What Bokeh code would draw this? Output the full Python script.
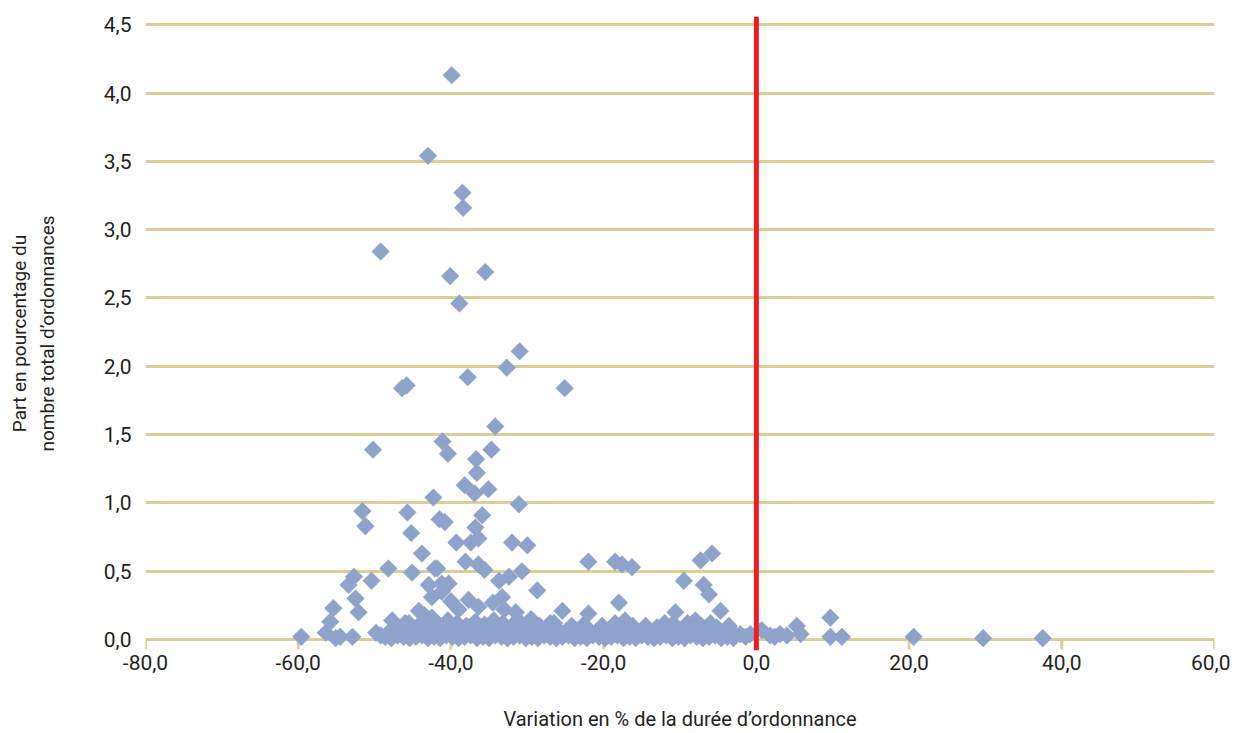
from bokeh.plotting import figure
from bokeh.models import Range1d, FixedTicker, CustomJSTickFormatter, Span, ColumnDataSource
from bokeh.embed import file_html
from bokeh.resources import INLINE

# ---- data (variation % of prescription duration, share % of prescriptions) ----
high_x = [-39.9, -43.0, -38.5, -38.4, -49.2, -40.1, -35.5, -38.9, -31.0, -32.7,
          -37.8, -25.1, -46.4, -45.8, -50.2, -41.1, -40.4, -34.2, -34.7, -36.7,
          -36.6, -38.2, -36.9, -35.1, -42.3]
high_y = [4.13, 3.54, 3.27, 3.16, 2.84, 2.66, 2.69, 2.46, 2.11, 1.99,
          1.92, 1.84, 1.84, 1.86, 1.39, 1.45, 1.36, 1.56, 1.39, 1.32,
          1.22, 1.13, 1.07, 1.10, 1.04]

mid_x = [-31.1, -51.6, -51.2, -45.7, -45.2, -41.5, -40.8, -35.9, -36.8, -39.3,
         -37.4, -36.4, -32.0, -30.0, -43.8, -48.2, -45.1, -42.1, -52.7, -50.4,
         -53.4, -52.5, -42.9, -42.5, -41.2, -38.1, -36.4, -41.8, -30.7, -22.0,
         -28.7, -40.3, -41.2, -33.7, -32.4, -33.3, -18.5, -17.6, -16.3, -5.8,
         -7.3, -9.5, -6.9, -6.2, -35.6]
mid_y = [0.99, 0.94, 0.83, 0.93, 0.78, 0.88, 0.86, 0.91, 0.82, 0.71,
         0.71, 0.74, 0.71, 0.69, 0.63, 0.52, 0.49, 0.52, 0.46, 0.43,
         0.40, 0.30, 0.40, 0.31, 0.41, 0.57, 0.55, 0.52, 0.50, 0.57,
         0.36, 0.41, 0.35, 0.43, 0.46, 0.31, 0.57, 0.55, 0.53, 0.63,
         0.58, 0.43, 0.40, 0.33, 0.51]

low_x = [-52.1, -55.4, -55.8, -44.2, -47.7, -42.5, -37.7, -36.4, -25.4, -22.0,
         -18.0, -4.7, -10.6, -17.2, 9.7, -40.0, -39.0, -34.5, -33.0, -31.5,
         -29.5, -27.0, -45.5, -43.5, -12.0, -8.0, -6.0, -3.6, -14.5]
low_y = [0.20, 0.23, 0.13, 0.21, 0.14, 0.16, 0.29, 0.24, 0.21, 0.19,
         0.27, 0.21, 0.20, 0.14, 0.16, 0.28, 0.22, 0.27, 0.22, 0.20,
         0.15, 0.12, 0.12, 0.18, 0.12, 0.14, 0.12, 0.10, 0.10]

edge_x = [-59.6, -56.4, -54.5, -52.9, -55.1, -49.8, -49.2, 20.6, 29.7, 37.5,
          9.7, 11.2, 5.3, 5.8, 0.7, 3.1, 4.0, 1.8, -0.8, -2.1, -3.4, -1.4, 2.4]
edge_y = [0.02, 0.05, 0.02, 0.02, 0.01, 0.05, 0.03, 0.02, 0.01, 0.01,
          0.02, 0.02, 0.10, 0.04, 0.07, 0.04, 0.03, 0.03, 0.04, 0.04, 0.07, 0.02, 0.02]

base1_x = [-48.6, -47.8, -47.0, -46.2, -45.4, -44.6, -43.8, -43.0, -42.2, -41.4,
           -40.6, -39.8, -39.0, -38.2, -37.4, -36.6, -35.8, -35.0, -34.2, -33.4,
           -32.6, -31.8, -31.0, -30.2, -29.4, -28.6, -27.8, -27.0, -26.2, -25.4,
           -24.6, -23.8, -23.0, -22.2, -21.4, -20.6, -19.8, -19.0, -18.2, -17.4,
           -16.6, -15.8, -15.0, -14.2, -13.4, -12.6, -11.8, -11.0, -10.2, -9.4,
           -8.6, -7.8, -7.0, -6.2, -5.4, -4.6, -3.8, -3.0]
base1_y = [0.02, 0.01, 0.03, 0.02, 0.01, 0.02, 0.03, 0.01, 0.02, 0.01,
           0.03, 0.02, 0.01, 0.02, 0.03, 0.01, 0.02, 0.01, 0.03, 0.02,
           0.01, 0.02, 0.03, 0.01, 0.02, 0.01, 0.03, 0.02, 0.01, 0.02,
           0.03, 0.01, 0.02, 0.01, 0.03, 0.02, 0.01, 0.02, 0.03, 0.01,
           0.02, 0.01, 0.03, 0.02, 0.01, 0.02, 0.03, 0.01, 0.02, 0.01,
           0.03, 0.02, 0.01, 0.02, 0.03, 0.01, 0.02, 0.01]

base2_x = [-48.0, -46.8, -45.8, -44.9, -44.1, -43.3, -42.5, -41.7, -40.9, -40.1,
           -39.3, -38.5, -37.7, -36.9, -36.1, -35.3, -34.5, -33.7, -32.9, -32.1,
           -31.3, -30.5, -29.7, -28.9, -28.1, -26.9, -25.9, -24.9, -23.9, -22.9,
           -21.9, -20.9, -19.9, -18.9, -17.9, -16.9, -15.9, -14.9, -13.7, -12.3,
           -11.2, -10.4, -9.6, -8.7, -7.6, -6.6, -5.6, -4.4]
base2_y = [0.06, 0.08, 0.05, 0.07, 0.09, 0.06, 0.08, 0.07, 0.09, 0.06,
           0.08, 0.07, 0.09, 0.06, 0.08, 0.07, 0.09, 0.06, 0.08, 0.07,
           0.06, 0.09, 0.07, 0.06, 0.08, 0.05, 0.07, 0.06, 0.08, 0.05,
           0.07, 0.06, 0.05, 0.08, 0.06, 0.05, 0.07, 0.05, 0.06, 0.08,
           0.07, 0.09, 0.06, 0.08, 0.07, 0.05, 0.06, 0.05]

base3_x = [-46.0, -44.3, -43.0, -41.6, -40.4, -39.2, -38.0, -36.8, -35.6, -34.4,
           -33.2, -32.0, -30.8, -29.6, -28.4, -26.5, -24.2, -22.6, -20.2, -18.5,
           -16.2, -13.0, -11.0, -9.0, -7.2, -5.2]
base3_y = [0.12, 0.10, 0.13, 0.11, 0.14, 0.12, 0.10, 0.13, 0.11, 0.14,
           0.12, 0.10, 0.12, 0.11, 0.10, 0.12, 0.10, 0.11, 0.10, 0.12,
           0.10, 0.09, 0.11, 0.12, 0.10, 0.09]

x_ticks = [-80, -60, -40, -20, 0, 20, 40, 60]
y_ticks = [0, 0.5, 1.0, 1.5, 2.0, 2.5, 3.0, 3.5, 4.0, 4.5]
reference_x = 0

x_title = "Variation en % de la durée d\u2019ordonnance"
y_title = "Part en pourcentage du\nnombre total d\u2019ordonnances"

xs = high_x + mid_x + low_x + edge_x + base1_x + base2_x + base3_x
ys = high_y + mid_y + low_y + edge_y + base1_y + base2_y + base3_y

FONT = "Roboto"
TXT = "#231f20"
GRID = "#dccf95"
TICK_LEN = 0.073  # tick mark length below the zero line (≈10 px)

p = figure(width=1230, height=733, output_backend="svg", toolbar_location=None,
           x_range=Range1d(-80, 60), y_range=Range1d(-0.08, 4.56),
           min_border_left=145, min_border_right=16, min_border_top=16, min_border_bottom=83)
p.outline_line_color = None
p.background_fill_color = "white"

# grid
p.xgrid.visible = False
p.ygrid.ticker = FixedTicker(ticks=y_ticks)
p.ygrid.grid_line_color = GRID
p.ygrid.grid_line_width = 3

fmt = CustomJSTickFormatter(code="return tick.toFixed(1).replace('.', ',');")

# y axis
p.yaxis.ticker = FixedTicker(ticks=y_ticks)
p.yaxis.formatter = fmt
p.yaxis.axis_line_color = None
p.yaxis.major_tick_line_color = None
p.yaxis.minor_tick_line_color = None
p.yaxis.major_tick_out = 0
p.yaxis.major_label_standoff = 14
p.yaxis.major_label_text_font = FONT
p.yaxis.major_label_text_font_size = "21px"
p.yaxis.major_label_text_color = TXT
p.yaxis.axis_label = y_title
p.yaxis.axis_label_text_font = FONT
p.yaxis.axis_label_text_font_size = "19px"
p.yaxis.axis_label_text_font_style = "normal"
p.yaxis.axis_label_text_color = TXT
p.yaxis.axis_label_standoff = 42

# x axis (labels only; zero line + tick marks drawn in the frame)
p.xaxis.ticker = FixedTicker(ticks=x_ticks)
p.xaxis.formatter = fmt
p.xaxis.axis_line_color = None
p.xaxis.major_tick_line_color = None
p.xaxis.minor_tick_line_color = None
p.xaxis.major_tick_out = 0
p.xaxis.major_tick_in = 0
p.xaxis.major_label_standoff = 4
p.xaxis.major_label_text_font = FONT
p.xaxis.major_label_text_font_size = "21px"
p.xaxis.major_label_text_color = TXT
p.xaxis.axis_label = x_title
p.xaxis.axis_label_text_font = FONT
p.xaxis.axis_label_text_font_size = "20px"
p.xaxis.axis_label_text_font_style = "normal"
p.xaxis.axis_label_text_color = TXT
p.xaxis.axis_label_standoff = 34

p.segment(x0=x_ticks, y0=[0] * len(x_ticks), x1=x_ticks, y1=[-TICK_LEN] * len(x_ticks),
          line_color=GRID, line_width=3)

src = ColumnDataSource(data=dict(x=xs, y=ys))
p.scatter("x", "y", source=src, marker="square", size=12.5, angle=0.785398,
          fill_color="#8ea3cb", line_color="#8ea3cb", line_width=0.5)

p.add_layout(Span(location=reference_x, dimension="height", line_color="#ec1c24", line_width=5))

open("out.html", "w").write(file_html(p, INLINE))
